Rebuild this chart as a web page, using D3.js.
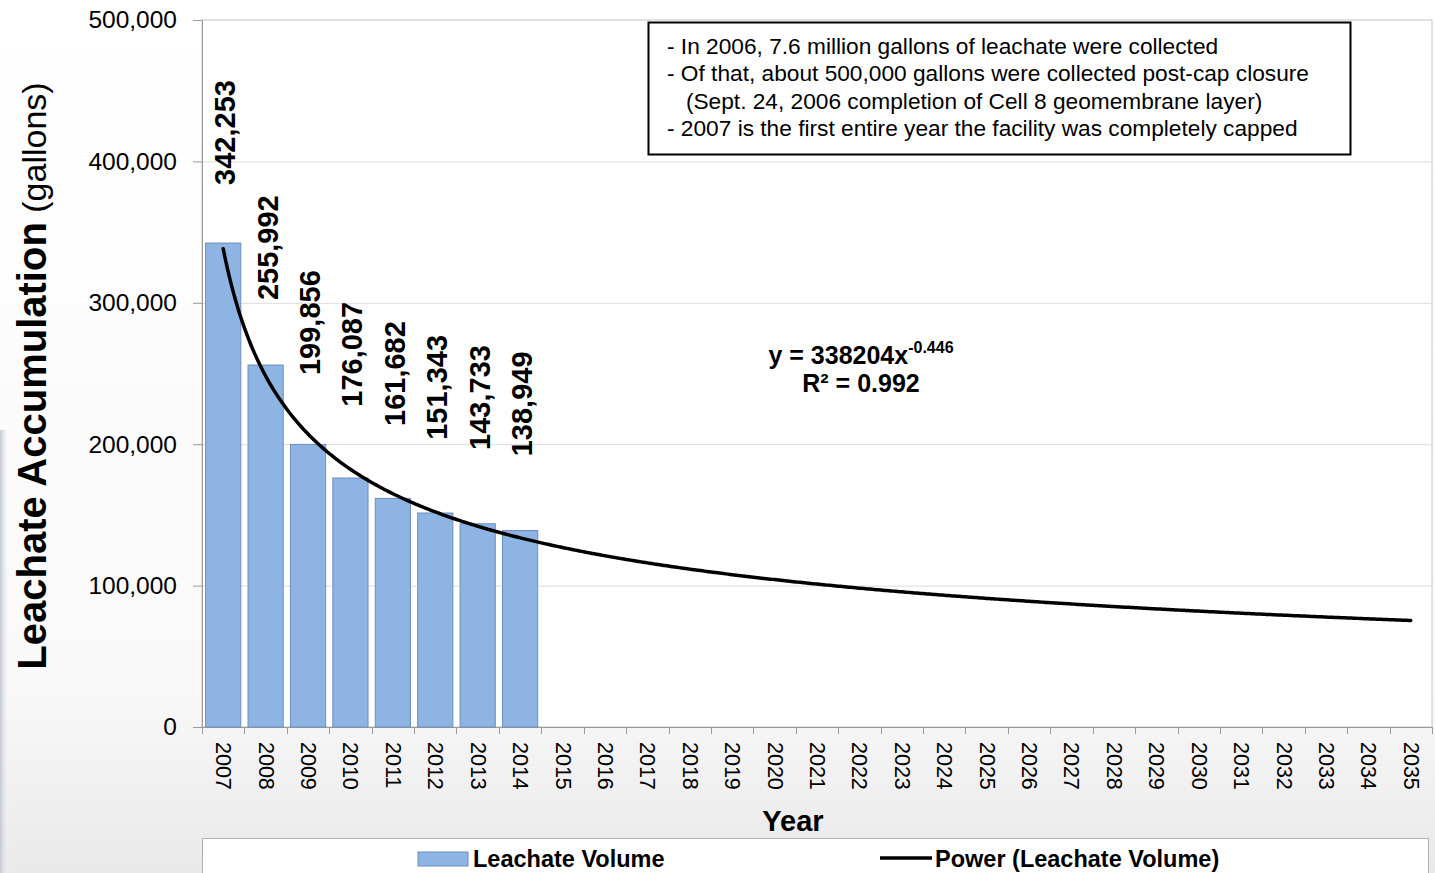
<!DOCTYPE html>
<html>
<head>
<meta charset="utf-8">
<script src="https://cdn.jsdelivr.net/npm/d3@7"></script>
<style>
  body { margin: 0; background: #fff; }
  svg { display: block; }
  text { font-family: "Liberation Sans", Arial, Helvetica, sans-serif; fill: #000; }
</style>
</head>
<body>
<svg id="chart" width="1435" height="873"></svg>
<script>
// ---- data ----
const years = ["2007","2008","2009","2010","2011","2012","2013","2014","2015","2016",
               "2017","2018","2019","2020","2021","2022","2023","2024","2025","2026",
               "2027","2028","2029","2030","2031","2032","2033","2034","2035"];
const measuredYears = ["2007","2008","2009","2010","2011","2012","2013","2014"];
const volumes = [342253, 255992, 199856, 176087, 161682, 151343, 143733, 138949];
const yTicks = [0, 100000, 200000, 300000, 400000, 500000];
// power trendline y = a * x^b, x = 1 for the first year
const fitCoef = 338204;
const fitExp = -0.446;
const fitR2 = "0.992";
const notes = [
  "- In 2006, 7.6 million gallons of leachate were collected",
  "- Of that, about 500,000 gallons were collected post-cap closure",
  "   (Sept. 24, 2006 completion of Cell 8 geomembrane layer)",
  "- 2007 is the first entire year the facility was completely capped"
];
const legendItems = ["Leachate Volume", "Power (Leachate Volume)"];

// ---- layout ----
const W = 1435, H = 873;
const plot = { left: 202, right: 1432, top: 20, bottom: 727 };
const barColor = "#8db4e2";
const barStroke = "#6d8fbd";

const svg = d3.select("#chart");
const defs = svg.append("defs");

const bg = defs.append("linearGradient").attr("id", "bgGrad")
  .attr("x1", 0).attr("y1", 0).attr("x2", 0).attr("y2", 1);
bg.append("stop").attr("offset", "0").attr("stop-color", "#ffffff");
bg.append("stop").attr("offset", "0.78").attr("stop-color", "#f9f9f9");
bg.append("stop").attr("offset", "1").attr("stop-color", "#e9e9e9");

const edge = defs.append("linearGradient").attr("id", "edgeGrad")
  .attr("x1", 0).attr("y1", 0).attr("x2", 1).attr("y2", 0);
edge.append("stop").attr("offset", "0").attr("stop-color", "#c2c8d2").attr("stop-opacity", 1);
edge.append("stop").attr("offset", "1").attr("stop-color", "#ffffff").attr("stop-opacity", 0);

svg.append("rect").attr("width", W).attr("height", H).attr("fill", "url(#bgGrad)");
svg.append("rect").attr("x", 0).attr("y", 430).attr("width", 10).attr("height", H - 430)
  .attr("fill", "url(#edgeGrad)");

// ---- scales ----
const x = d3.scaleBand().domain(years)
  .range([plot.left, plot.right]).paddingInner(0.17).paddingOuter(0.085);
const y = d3.scaleLinear().domain([0, 500000]).range([plot.bottom, plot.top]);
const center = d => x(d) + x.bandwidth() / 2;
const xFit = d3.scaleLinear().domain([1, years.length])
  .range([center(years[0]), center(years[years.length - 1])]);

// plot area
svg.append("rect")
  .attr("x", plot.left).attr("y", plot.top)
  .attr("width", plot.right - plot.left).attr("height", plot.bottom - plot.top)
  .attr("fill", "#ffffff").attr("stroke", "#c6c6c6").attr("stroke-width", 1);

// gridlines
svg.append("g").selectAll("line")
  .data(yTicks.filter(t => t > 0 && t < 500000))
  .join("line")
  .attr("x1", plot.left).attr("x2", plot.right)
  .attr("y1", d => y(d) + 0.5).attr("y2", d => y(d) + 0.5)
  .attr("stroke", "#dcdcdc").attr("stroke-width", 1);

// y axis
const yAxis = svg.append("g")
  .attr("transform", `translate(${plot.left},0)`)
  .call(d3.axisLeft(y).tickValues(yTicks).tickSize(9).tickPadding(16)
    .tickFormat(d3.format(",")));
yAxis.select(".domain").attr("stroke", "#9a9a9a");
yAxis.selectAll(".tick line").attr("stroke", "#9a9a9a");
yAxis.selectAll(".tick text")
  .attr("font-size", "24.5px").attr("fill", "#111")
  .style("font-family", '"Liberation Sans", Arial, sans-serif');

// x axis: category labels centred on bands, tick marks on band boundaries
const xAxis = svg.append("g")
  .attr("transform", `translate(0,${plot.bottom})`)
  .call(d3.axisBottom(x).tickSize(0).tickPadding(0));
xAxis.select(".domain").attr("stroke", "#9a9a9a");
xAxis.selectAll(".tick text")
  .attr("font-size", "21.5px").attr("fill", "#111")
  .style("font-family", '"Liberation Sans", Arial, sans-serif')
  .attr("text-anchor", "start")
  .attr("dominant-baseline", "central")
  .attr("dy", null)
  .attr("y", 0)
  .attr("transform", "translate(0,15) rotate(90)");
const bounds = years.map(d => x(d) - (x.step() - x.bandwidth()) / 2).concat([plot.right]);
svg.append("g").selectAll("line").data(bounds).join("line")
  .attr("x1", d => Math.round(d) + 0.5).attr("x2", d => Math.round(d) + 0.5)
  .attr("y1", plot.bottom).attr("y2", plot.bottom + 7)
  .attr("stroke", "#9a9a9a");

// bars
svg.append("g").selectAll("rect")
  .data(volumes)
  .join("rect")
  .attr("x", (d, i) => x(measuredYears[i]))
  .attr("y", d => y(d))
  .attr("width", x.bandwidth())
  .attr("height", d => y(0) - y(d))
  .attr("fill", barColor)
  .attr("stroke", barStroke).attr("stroke-width", 1);

// power trendline
const fitPts = d3.range(1, years.length + 0.001, 0.05).map(t => [t, fitCoef * Math.pow(t, fitExp)]);
svg.append("path")
  .datum(fitPts)
  .attr("fill", "none").attr("stroke", "#000").attr("stroke-width", 3.5)
  .attr("stroke-linecap", "round")
  .attr("d", d3.line().x(d => xFit(d[0])).y(d => y(d[1])));

// value labels, placed above their bars (taller bars sit slightly closer)
const labelBase = v => 0.944 * y(v) - 44.5;
svg.append("g").selectAll("text")
  .data(volumes)
  .join("text")
  .attr("transform", (d, i) => `translate(${center(measuredYears[i]) + 2},${labelBase(d)}) rotate(-90)`)
  .attr("text-anchor", "start")
  .attr("dominant-baseline", "central")
  .attr("font-size", "29px").attr("font-weight", "bold")
  .text(d => d3.format(",")(d));

// axis titles
const yTitle = svg.append("text")
  .attr("transform", "translate(46,376) rotate(-90)")
  .attr("text-anchor", "middle");
yTitle.append("tspan").attr("font-size", "40px").attr("font-weight", "bold").text("Leachate Accumulation");
yTitle.append("tspan").attr("font-size", "34px").text(" (gallons)");

svg.append("text")
  .attr("x", 793).attr("y", 831)
  .attr("text-anchor", "middle")
  .attr("font-size", "29px").attr("font-weight", "bold")
  .text("Year");

// trendline equation
const eq = svg.append("text").attr("x", 861).attr("y", 364).attr("text-anchor", "middle")
  .attr("font-size", "25px").attr("font-weight", "bold");
eq.append("tspan").text(`y = ${fitCoef}x`);
eq.append("tspan").attr("font-size", "16px").attr("dy", -11).text(fitExp.toFixed(3));
svg.append("text").attr("x", 861).attr("y", 392).attr("text-anchor", "middle")
  .attr("font-size", "25px").attr("font-weight", "bold")
  .text(`R\u00B2 = ${fitR2}`);

// note box
svg.append("rect")
  .attr("x", 648.5).attr("y", 22.5).attr("width", 702).attr("height", 132)
  .attr("fill", "#fff").attr("stroke", "#000").attr("stroke-width", 2);
svg.append("g").selectAll("text")
  .data(notes)
  .join("text")
  .attr("x", 667)
  .attr("y", (d, i) => 54 + i * 27.4)
  .attr("font-size", "22.7px")
  .style("white-space", "pre")
  .text(d => d);

// legend
svg.append("rect")
  .attr("x", 202.5).attr("y", 838.5).attr("width", 1226).attr("height", 60)
  .attr("fill", "#fff").attr("stroke", "#b0b0b0");
svg.append("rect")
  .attr("x", 418).attr("y", 852).attr("width", 50).attr("height", 14)
  .attr("fill", barColor).attr("stroke", barStroke);
svg.append("text").attr("x", 473).attr("y", 867)
  .attr("font-size", "23.5px").attr("font-weight", "bold").text(legendItems[0]);
svg.append("line").attr("x1", 880).attr("x2", 932).attr("y1", 858).attr("y2", 858)
  .attr("stroke", "#000").attr("stroke-width", 3.5);
svg.append("text").attr("x", 935).attr("y", 867)
  .attr("font-size", "23.5px").attr("font-weight", "bold").text(legendItems[1]);
</script>
</body>
</html>
